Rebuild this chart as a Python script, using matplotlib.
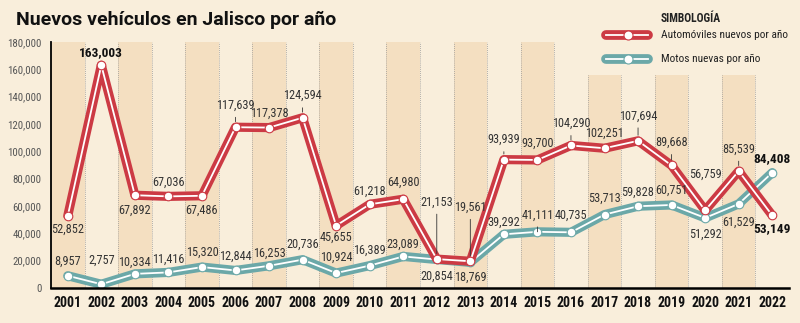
import matplotlib
matplotlib.use("Agg")
import matplotlib.pyplot as plt
from matplotlib.lines import Line2D

years = list(range(2001, 2023))
autos = [52852, 163003, 67892, 67036, 67486, 117639, 117378, 124594, 45655, 61218, 64980,
         21153, 19561, 93939, 93700, 104290, 102251, 107694, 89668, 56759, 85539, 53149]
motos = [8957, 2757, 10334, 11416, 15320, 12844, 16253, 20736, 10924, 16389, 23089,
         20854, 18769, 39292, 41111, 40735, 53713, 59828, 60751, 51292, 61529, 84408]
yticks = list(range(0, 180001, 20000))

# label placement (pixels above/below the point) and leader-line flags
auto_dy = [-13, 13, -15, 14, -14, 22, 14, 22, -12, 13, 17, 57, 54, 20, 17, 22, 15, 25, 23, 36, 22, -13]
auto_lead = [0, 0, 0, 0, 0, 1, 0, 1, 0, 0, 0, 1, 1, 1, 0, 1, 0, 1, 1, 0, 1, 0]
moto_dy = [14, 24, 12, 13, 15, 14, 13, 15, 16, 15, 12, -17, -15, 12, 17, 17, 16, 14, 15, -16, -18, 14]
moto_lead = [0, 0, 0, 0, 0, 0, 0, 0, 0, 0, 0, 0, 0, 0, 1, 0, 0, 0, 0, 0, 0, 0]
bold_auto = {2002, 2022}
bold_moto = {2022}

BG = "#f9eedb"
SHADE = "#f4dfc1"
RED = "#cc3a44"
TEAL = "#6ba8a8"
COND = ["Roboto Condensed", "Barlow Condensed", "Archivo Narrow", "DejaVu Sans"]

fig = plt.figure(figsize=(8, 3.23), dpi=100, facecolor=BG)
ax = fig.add_axes([51 / 800, 35 / 323, 738 / 800, 246 / 323])
ax.set_facecolor(BG)
ax.set_xlim(2000.5, 2022.5)
ax.set_ylim(0, 180000)

# alternating column shading and dotted separators
for y in years:
    top = 180000 if y <= 2015 else 156000
    if y % 2 == 1:
        ax.axvspan(y - 0.5, y + 0.5, ymax=top / 180000, color=SHADE, lw=0, zorder=0)
for y in years:
    top = 180000 if y <= 2015 else 156000
    ax.plot([y + 0.5, y + 0.5], [0, top], ls=(0, (1, 1.5)), color="#9a9a9a", lw=0.6, zorder=1)

def draw_series(vals, color, z):
    ax.plot(years, vals, color=color, lw=6.6, solid_joinstyle="round", solid_capstyle="round", zorder=z)
    ax.plot(years, vals, color="white", lw=1.3, solid_joinstyle="round", zorder=z + 0.1)
    ax.plot(years, vals, ls="none", marker="o", ms=6.2, mfc="white", mec=color, mew=0.8, zorder=z + 0.2)

draw_series(motos, TEAL, 3)
draw_series(autos, RED, 4)

def label(vals, dys, leads, bolds):
    for y, v, dy, ld in zip(years, vals, dys, leads):
        b = y in bolds
        kw = dict(xy=(y, v), xytext=(0, dy), textcoords="offset pixels", ha="center", va="center",
                  fontsize=9.6 if b else 8.8, fontweight="bold" if b else "normal",
                  color="#111111" if b else "#333333", family=COND, zorder=6)
        if ld:
            kw["arrowprops"] = dict(arrowstyle="-", lw=0.6, color="#333333", shrinkA=2, shrinkB=4)
        ax.annotate(f"{v:,}", **kw)

label(autos, auto_dy, auto_lead, bold_auto)
label(motos, moto_dy, moto_lead, bold_moto)

ax.set_xticks(years)
ax.set_xticklabels([str(y) for y in years], fontsize=10, fontweight="bold", family=COND, color="#111111")
ax.set_yticks(yticks)
ax.set_yticklabels([f"{t:,}" for t in yticks], fontsize=7.8, family=COND, color="#555555")
ax.tick_params(axis="x", length=0, pad=6)
ax.tick_params(axis="y", length=0, pad=7)
for s in ("top", "right"):
    ax.spines[s].set_visible(False)
ax.spines["left"].set_linewidth(1.3)
ax.spines["bottom"].set_linewidth(1.8)
ax.spines["left"].set_zorder(5)
ax.spines["bottom"].set_zorder(5)

fig.text(16 / 800, 1 - 20 / 323, "Nuevos vehículos en Jalisco por año", fontsize=14,
         fontweight="bold", family=["Roboto", "DejaVu Sans"], color="#111111", va="center")

# legend
fig.text(661 / 800, 1 - 18 / 323, "SIMBOLOGÍA", fontsize=8.3, fontweight="bold", family=COND,
         color="#222222", va="center")
for yy, c, t in [(35, RED, "Automóviles nuevos por año"), (59, TEAL, "Motos nuevas por año")]:
    fy = 1 - yy / 323
    fig.add_artist(Line2D([606 / 800, 648 / 800], [fy, fy], transform=fig.transFigure,
                          color=c, lw=7, solid_capstyle="round"))
    fig.add_artist(Line2D([606 / 800, 648 / 800], [fy, fy], transform=fig.transFigure,
                          color="white", lw=1.3))
    fig.add_artist(Line2D([628 / 800], [fy], transform=fig.transFigure, ls="none", marker="o",
                          ms=6.5, mfc="white", mec=c, mew=0.8))
    fig.text(661 / 800, fy, t, fontsize=8.2, family=COND, color="#222222", va="center")

fig.savefig("out.png", dpi=100, facecolor=BG)
